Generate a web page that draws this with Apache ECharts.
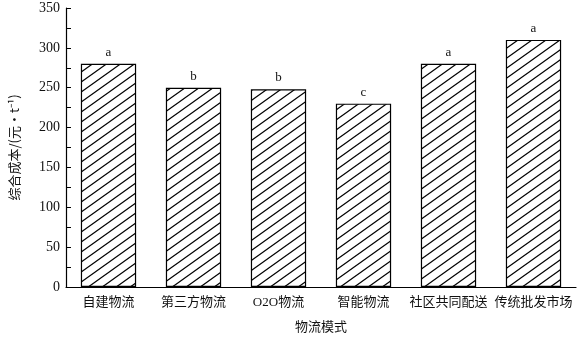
<!DOCTYPE html>
<html><head><meta charset="utf-8">
<script src="https://cdn.jsdelivr.net/npm/echarts@6/dist/echarts.min.js"></script>
<style>html,body{margin:0;padding:0;background:#fff}#c{width:580px;height:340px}</style>
</head><body><div id="c"></div>
<script>
const categories = ['自建物流','第三方物流','O2O物流','智能物流','社区共同配送','传统批发市场'];
const costValues = [280, 250, 248, 230, 280, 310];
const sigLetters = ['a','b','b','c','a','a'];
const yTicks = [0, 50, 100, 150, 200, 250, 300, 350];

const TW = 14, TH = 10;
const pc = document.createElement('canvas');
pc.width = TW; pc.height = TH;
const g = pc.getContext('2d');
g.fillStyle = '#fff'; g.fillRect(0,0,TW,TH);
g.strokeStyle = '#000'; g.lineWidth = 1.2;
[-TW, 0, TW].forEach(dx=>{
  g.beginPath(); g.moveTo(dx-TW*0.1, TH*1.1); g.lineTo(dx+TW*1.1, -TH*0.1); g.stroke();
});

const chart = echarts.init(document.getElementById('c'), null, {renderer:'canvas'});
chart.setOption({
  backgroundColor:'#fff',
  animation:false,
  grid:{left:66, right:4, top:8, bottom:53, containLabel:false},
  xAxis:{
    type:'category', data:categories,
    axisLine:{lineStyle:{color:'#000', width:1.2}},
    axisTick:{show:false},
    axisLabel:{color:'#111', fontSize:13, fontFamily:'"Liberation Serif", "Noto Sans CJK SC"', margin:9, interval:0},
    name:'物流模式', nameLocation:'middle', nameGap:33,
    nameTextStyle:{color:'#111', fontSize:13, fontFamily:'Noto Sans CJK SC'}
  },
  yAxis:{
    type:'value', min:yTicks[0], max:yTicks[yTicks.length-1], interval:50,
    axisLine:{show:true, lineStyle:{color:'#000', width:1.2}},
    axisTick:{show:true, inside:true, length:5, lineStyle:{color:'#000'}},
    minorTick:{show:true, splitNumber:2, length:5, lineStyle:{color:'#000'}},
    splitLine:{show:false},
    axisLabel:{color:'#111', fontSize:14, fontFamily:'Liberation Serif', margin:6},
    name:'综合成本/(元·t⁻¹)', nameLocation:'middle', nameGap:45,
    nameTextStyle:{color:'#111', fontSize:13, fontFamily:'Noto Sans CJK SC'}
  },
  series:[{
    type:'bar', data:costValues, barCategoryGap:'35%',
    itemStyle:{color:{image:pc, repeat:'repeat'}, borderColor:'#000', borderWidth:1.2},
    label:{show:true, position:'top', distance:5, color:'#111', fontSize:13, fontFamily:'Liberation Serif',
      formatter:p=>sigLetters[p.dataIndex]}
  }]
});
</script></body></html>
